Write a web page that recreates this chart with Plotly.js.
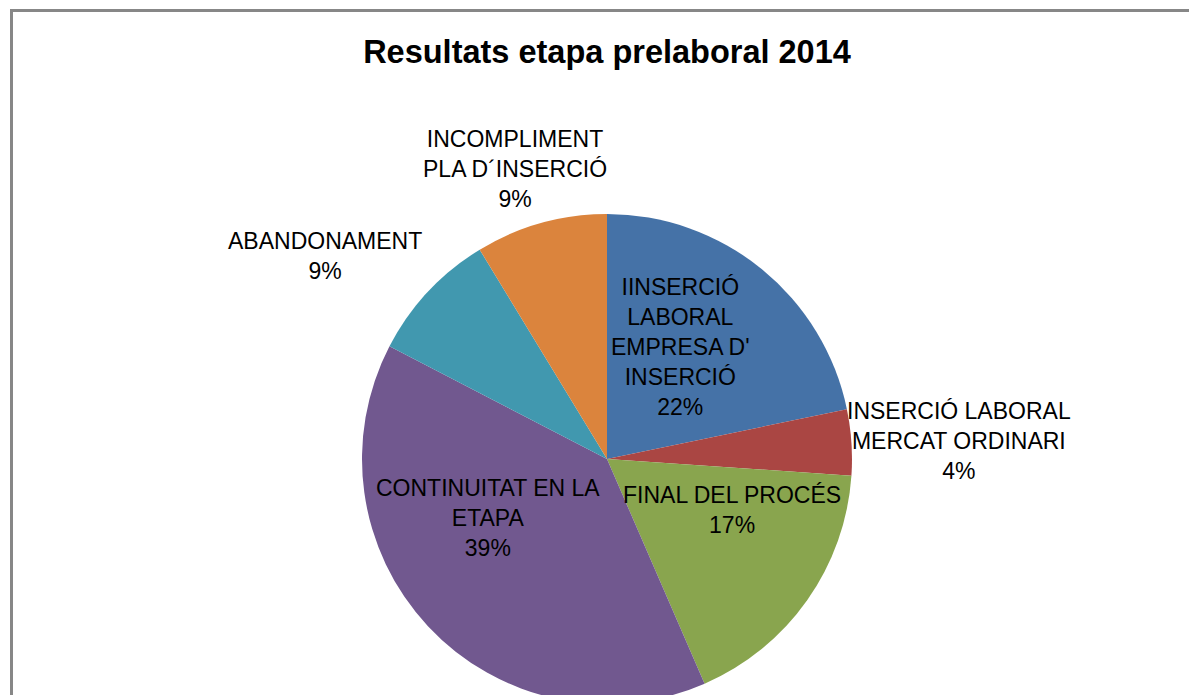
<!DOCTYPE html>
<html>
<head>
<meta charset="utf-8">
<script src="https://cdn.plot.ly/plotly-3.0.1.min.js"></script>
<style>
  html, body { margin: 0; padding: 0; overflow: hidden; background: #ffffff; }
  #wrap { position: relative; width: 1189px; height: 695px; overflow: hidden; }
  #chart { position: absolute; left: 0; top: 0; width: 1189px; height: 720px; }
  #frame { position: absolute; left: 10px; top: 9px; width: 2000px; height: 2000px;
           border-top: 3px solid #878787; border-left: 3px solid #878787; pointer-events: none; }
  #mask { position: absolute; left: 1175px; top: 13px; width: 30px; height: 700px;
          background: #ffffff; z-index: 10; }
</style>
</head>
<body>
<div id="wrap">
  <div id="chart"></div>
  <div id="frame"></div>
  <div id="mask"></div>
</div>
<script>
// ---- data ----
const categories = [
  "IINSERCIÓ LABORAL EMPRESA D' INSERCIÓ",
  "INSERCIÓ LABORAL MERCAT ORDINARI",
  "FINAL DEL PROCÉS",
  "CONTINUITAT EN LA ETAPA",
  "ABANDONAMENT",
  "INCOMPLIMENT PLA D´INSERCIÓ"
];
const values = [5, 1, 4, 9, 2, 2];
const labelLines = [
  "IINSERCIÓ<br>LABORAL<br>EMPRESA D'<br>INSERCIÓ",
  "INSERCIÓ LABORAL<br>MERCAT ORDINARI",
  "FINAL DEL PROCÉS",
  "CONTINUITAT EN LA<br>ETAPA",
  "ABANDONAMENT",
  "INCOMPLIMENT<br>PLA D´INSERCIÓ"
];
const colors = ["#4572A7", "#AA4643", "#89A54E", "#71588F", "#4198AF", "#DB843D"];
const titleText = "Resultats etapa prelaboral 2014";

// ---- layout helpers ----
const W = 1189, H = 720;
const px = x => x / W;
const py = y => 1 - y / H;
// label anchor positions (pixel centres)
const labelPos = [
  [680, 347], [959, 441], [732, 510], [488, 518], [325, 256], [515, 169]
];

const total = values.reduce((a, b) => a + b, 0);
const annotations = categories.map((c, i) => ({
  xref: 'paper', yref: 'paper',
  x: px(labelPos[i][0]), y: py(labelPos[i][1]),
  xanchor: 'center', yanchor: 'middle',
  text: labelLines[i] + '<br>' + Math.round(values[i] / total * 100) + '%',
  showarrow: false, align: 'center',
  font: { family: 'Liberation Sans, Arial, sans-serif', size: 23, color: '#000000' }
}));

const trace = {
  type: 'pie',
  labels: categories,
  values: values,
  sort: false,
  direction: 'clockwise',
  rotation: 0,
  marker: { colors: colors, line: { width: 0 } },
  textinfo: 'none',
  hoverinfo: 'none',
  domain: { x: [px(362), px(852)], y: [py(704), py(214)] }
};

const layout = {
  width: W, height: H,
  margin: { l: 0, r: 0, t: 0, b: 0 },
  paper_bgcolor: '#ffffff',
  showlegend: false,
  title: {
    text: '<b>' + titleText + '</b>',
    x: px(607), xanchor: 'center',
    y: py(52), yanchor: 'middle', yref: 'container',
    font: { family: 'Liberation Sans, Arial, sans-serif', size: 32.5, color: '#000000' }
  },
  annotations: annotations
};

Plotly.newPlot('chart', [trace], layout, { displayModeBar: false, staticPlot: true });
</script>
</body>
</html>
